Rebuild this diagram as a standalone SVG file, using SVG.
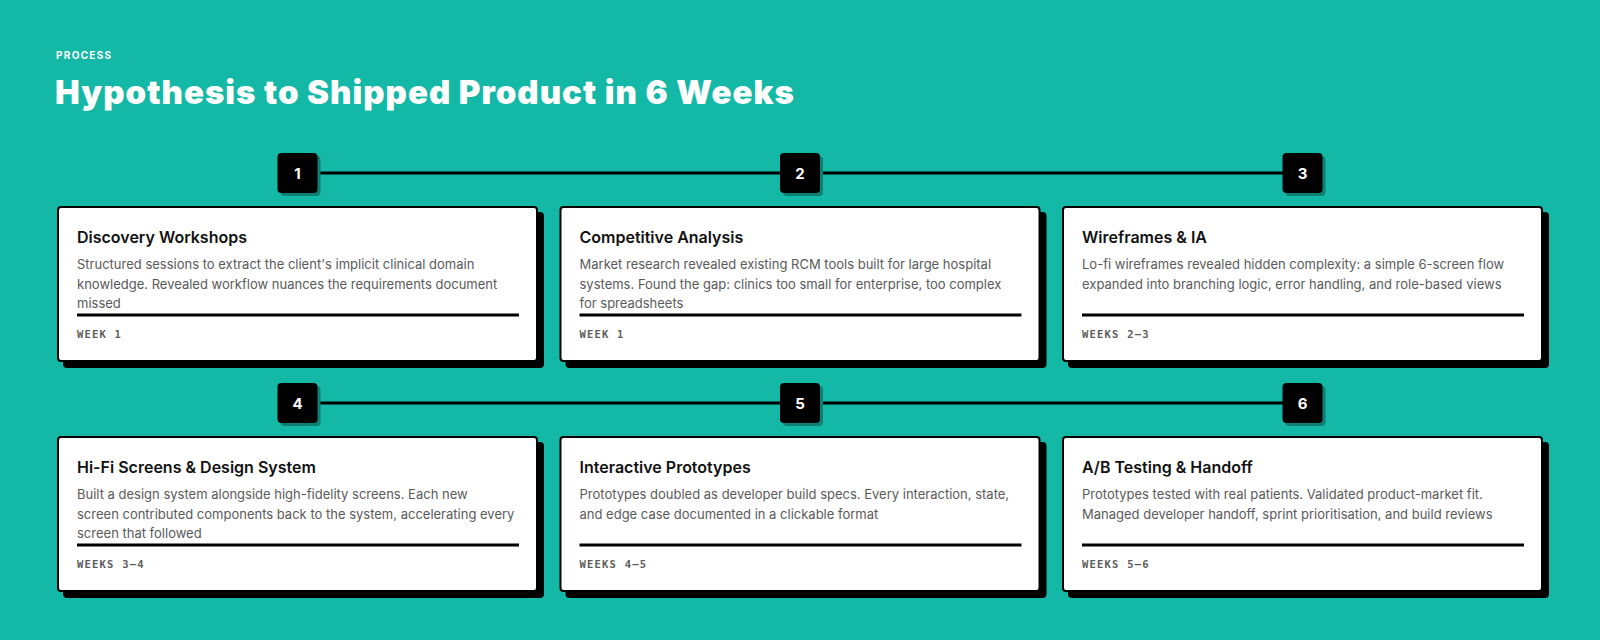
<svg xmlns="http://www.w3.org/2000/svg" width="1600" height="640" viewBox="0 0 1600 640">
<style>
.eyebrow{font-family:Inter,"Noto Sans",sans-serif;font-size:10px;font-weight:700;letter-spacing:1.3px;fill:#ffffff}
.h1{font-family:Inter,"Noto Sans",sans-serif;font-size:33px;font-weight:900;fill:#ffffff;letter-spacing:1px}
.bshadow{fill:#0e7f73}
.badge{fill:#000000}
.num{font-family:Inter,"Noto Sans",sans-serif;font-size:15px;font-weight:700;fill:#ffffff;text-anchor:middle}
.cshadow{fill:#000000}
.card{fill:#ffffff;stroke:#000000;stroke-width:2}
.ct{font-family:Inter,"Noto Sans",sans-serif;font-size:16px;font-weight:600;fill:#111111}
.cd{font-family:Inter,"Noto Sans",sans-serif;font-size:13px;font-weight:400;fill:#5a5a5a}
.div{fill:#000000}
.wk{font-family:"DejaVu Sans Mono","Liberation Mono",monospace;font-size:10.5px;font-weight:700;letter-spacing:1.2px;fill:#5c5c5c}
.conn{stroke:#000000;stroke-width:3;fill:none}
</style>
<rect x="0" y="0" width="1600" height="640" fill="#14b8a6"/>
<text class="eyebrow" x="56" y="59">PROCESS</text>
<text class="h1" x="55" y="103.5">Hypothesis to Shipped Product in 6 Weeks</text>

<g id="connectors">
<line class="conn" x1="317" y1="173" x2="780" y2="173"/>
<line class="conn" x1="820" y1="173" x2="1283" y2="173"/>
<line class="conn" x1="317" y1="403" x2="780" y2="403"/>
<line class="conn" x1="820" y1="403" x2="1283" y2="403"/>
</g>

<g id="node1">
<rect class="bshadow" x="280.5" y="156" width="40" height="40" rx="4"/>
<rect class="badge" x="277.5" y="153" width="40" height="40" rx="4"/>
<text class="num" x="297.5" y="178.5">1</text>
<rect class="cshadow" x="63" y="212" width="481" height="156" rx="4"/>
<rect class="card" x="58" y="207" width="479" height="154" rx="3"/>
<text class="ct" x="77" y="243">Discovery Workshops</text>
<text class="cd" x="77" y="269">Structured sessions to extract the client's implicit clinical domain</text>
<text class="cd" x="77" y="288.5">knowledge. Revealed workflow nuances the requirements document</text>
<text class="cd" x="77" y="308">missed</text>
<rect class="div" x="77" y="313.5" width="442" height="3"/>
<text class="wk" x="77" y="338">WEEK 1</text>
</g>

<g id="node2">
<rect class="bshadow" x="783" y="156" width="40" height="40" rx="4"/>
<rect class="badge" x="780" y="153" width="40" height="40" rx="4"/>
<text class="num" x="800" y="178.5">2</text>
<rect class="cshadow" x="565.5" y="212" width="481" height="156" rx="4"/>
<rect class="card" x="560.5" y="207" width="479" height="154" rx="3"/>
<text class="ct" x="579.5" y="243">Competitive Analysis</text>
<text class="cd" x="579.5" y="269">Market research revealed existing RCM tools built for large hospital</text>
<text class="cd" x="579.5" y="288.5">systems. Found the gap: clinics too small for enterprise, too complex</text>
<text class="cd" x="579.5" y="308">for spreadsheets</text>
<rect class="div" x="579.5" y="313.5" width="442" height="3"/>
<text class="wk" x="579.5" y="338">WEEK 1</text>
</g>

<g id="node3">
<rect class="bshadow" x="1285.5" y="156" width="40" height="40" rx="4"/>
<rect class="badge" x="1282.5" y="153" width="40" height="40" rx="4"/>
<text class="num" x="1302.5" y="178.5">3</text>
<rect class="cshadow" x="1068" y="212" width="481" height="156" rx="4"/>
<rect class="card" x="1063" y="207" width="479" height="154" rx="3"/>
<text class="ct" x="1082" y="243">Wireframes &amp; IA</text>
<text class="cd" x="1082" y="269">Lo-fi wireframes revealed hidden complexity: a simple 6-screen flow</text>
<text class="cd" x="1082" y="288.5">expanded into branching logic, error handling, and role-based views</text>
<rect class="div" x="1082" y="313.5" width="442" height="3"/>
<text class="wk" x="1082" y="338">WEEKS 2–3</text>
</g>

<g id="node4">
<rect class="bshadow" x="280.5" y="386" width="40" height="40" rx="4"/>
<rect class="badge" x="277.5" y="383" width="40" height="40" rx="4"/>
<text class="num" x="297.5" y="408.5">4</text>
<rect class="cshadow" x="63" y="442" width="481" height="156" rx="4"/>
<rect class="card" x="58" y="437" width="479" height="154" rx="3"/>
<text class="ct" x="77" y="473">Hi-Fi Screens &amp; Design System</text>
<text class="cd" x="77" y="499">Built a design system alongside high-fidelity screens. Each new</text>
<text class="cd" x="77" y="518.5">screen contributed components back to the system, accelerating every</text>
<text class="cd" x="77" y="538">screen that followed</text>
<rect class="div" x="77" y="543.5" width="442" height="3"/>
<text class="wk" x="77" y="568">WEEKS 3–4</text>
</g>

<g id="node5">
<rect class="bshadow" x="783" y="386" width="40" height="40" rx="4"/>
<rect class="badge" x="780" y="383" width="40" height="40" rx="4"/>
<text class="num" x="800" y="408.5">5</text>
<rect class="cshadow" x="565.5" y="442" width="481" height="156" rx="4"/>
<rect class="card" x="560.5" y="437" width="479" height="154" rx="3"/>
<text class="ct" x="579.5" y="473">Interactive Prototypes</text>
<text class="cd" x="579.5" y="499">Prototypes doubled as developer build specs. Every interaction, state,</text>
<text class="cd" x="579.5" y="518.5">and edge case documented in a clickable format</text>
<rect class="div" x="579.5" y="543.5" width="442" height="3"/>
<text class="wk" x="579.5" y="568">WEEKS 4–5</text>
</g>

<g id="node6">
<rect class="bshadow" x="1285.5" y="386" width="40" height="40" rx="4"/>
<rect class="badge" x="1282.5" y="383" width="40" height="40" rx="4"/>
<text class="num" x="1302.5" y="408.5">6</text>
<rect class="cshadow" x="1068" y="442" width="481" height="156" rx="4"/>
<rect class="card" x="1063" y="437" width="479" height="154" rx="3"/>
<text class="ct" x="1082" y="473">A/B Testing &amp; Handoff</text>
<text class="cd" x="1082" y="499">Prototypes tested with real patients. Validated product-market fit.</text>
<text class="cd" x="1082" y="518.5">Managed developer handoff, sprint prioritisation, and build reviews</text>
<rect class="div" x="1082" y="543.5" width="442" height="3"/>
<text class="wk" x="1082" y="568">WEEKS 5–6</text>
</g>
</svg>
